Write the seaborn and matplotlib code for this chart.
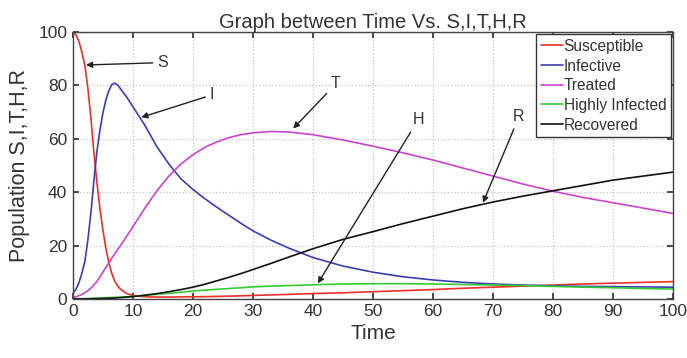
import matplotlib.pyplot as plt
import seaborn as sns
import pandas as pd

# values
time = [0, 0.5, 1, 1.5, 2, 2.5, 3, 3.5, 4, 4.5, 5, 5.5, 6, 6.5, 7, 7.5, 8,
        9, 10, 11, 12,
        14, 16, 18, 20, 22, 24, 26, 28, 30,
        33, 36, 40,
        45, 50, 55, 60, 65, 70, 75, 80, 85, 90, 95, 100]
susceptible = [100, 99, 96.5, 92.5, 87.5, 79, 68, 55, 44, 34, 26, 19, 13.5, 9.5, 6.5, 4.8, 3.5,
               2.0, 1.3, 1.0, 0.8,
               0.7, 0.7, 0.75, 0.8, 0.85, 0.95, 1.05, 1.15, 1.3,
               1.5, 1.7, 2.0,
               2.3, 2.7, 3.1, 3.5, 4.0, 4.4, 4.8, 5.2, 5.6, 5.9, 6.2, 6.5]
infective = [2, 3.5, 6, 9.5, 14, 22, 32, 44, 55, 63, 69.5, 74.5, 78, 80.3, 80.8, 80, 78.5,
             75.5, 72, 68.5, 65,
             57, 50.5, 45, 41, 37.5, 34.3, 31.3, 28.3, 25.5,
             22, 19, 15.5,
             12.3, 10, 8.3, 7.1, 6.2, 5.6, 5.2, 4.9, 4.7, 4.6, 4.5, 4.4]
treated = [0.5, 0.8, 1.2, 1.7, 2.3, 3.1, 4, 5.2, 6.5, 8.2, 10, 11.8, 13.5, 15.3, 17, 18.6, 20.2,
           23.6, 27, 30.5, 34,
           40.5, 46, 50.5, 54, 56.8, 58.8, 60.4, 61.5, 62.2,
           62.7, 62.5, 61.5,
           59.5, 57.2, 54.7, 52, 49, 46, 43, 40.3, 38, 36, 34, 32]
highly_infected = [0, 0, 0.05, 0.08, 0.1, 0.15, 0.2, 0.25, 0.3, 0.35, 0.4, 0.45, 0.5, 0.55, 0.6, 0.65, 0.7,
                   0.8, 0.9, 1.1, 1.3,
                   1.7, 2.1, 2.5, 3.0, 3.3, 3.6, 3.9, 4.2, 4.5,
                   4.8, 5.0, 5.3,
                   5.6, 5.7, 5.7, 5.6, 5.4, 5.2, 5.0, 4.7, 4.4, 4.2, 3.9, 3.7]
recovered = [0, 0, 0, 0, 0, 0.02, 0.05, 0.08, 0.1, 0.12, 0.15, 0.2, 0.25, 0.3, 0.35, 0.42, 0.5,
             0.7, 0.9, 1.1, 1.4,
             2.0, 2.7, 3.5, 4.4, 5.5, 6.8, 8.1, 9.5, 11.0,
             13.3, 15.7, 18.8,
             22.3, 25.2, 28.2, 31, 33.8, 36.3, 38.5, 40.5, 42.5, 44.5, 46, 47.5]

names = ["Susceptible", "Infective", "Treated", "Highly Infected", "Recovered"]
colors = ["#e8302a", "#3a3fb0", "#cc44cc", "#33cc33", "#111111"]

# arrow labels: (text, tip x, tip y, text x, text y)
labels = [("S", 2.2, 87.6, 15, 88.5),
          ("I", 11.4, 68.0, 23.2, 76.4),
          ("T", 36.7, 63.8, 43.8, 80.5),
          ("H", 40.8, 5.8, 57.5, 67),
          ("R", 68.3, 36.0, 74.3, 68.2)]

rows = []
for name, vals in zip(names, [susceptible, infective, treated, highly_infected, recovered]):
    for t, v in zip(time, vals):
        rows.append({"Time": t, "Value": v, "Compartment": name})
df = pd.DataFrame(rows)

sns.set_theme(style="ticks")
plt.rcParams["font.family"] = ["Liberation Sans", "DejaVu Sans"]
plt.rcParams["text.color"] = "#333333"
plt.rcParams["axes.labelcolor"] = "#333333"
plt.rcParams["xtick.color"] = "#333333"
plt.rcParams["ytick.color"] = "#333333"

fig = plt.figure(figsize=(6.87, 3.58), dpi=100)
ax = fig.add_axes([0.106, 0.165, 0.874, 0.746])

sns.lineplot(data=df, x="Time", y="Value", hue="Compartment",
             palette=dict(zip(names, colors)), linewidth=1.2, ax=ax)

for txt, x, y, tx, ty in labels:
    ax.annotate(txt, xy=(x, y), xytext=(tx, ty), fontsize=11.5,
                ha="center", va="center",
                arrowprops=dict(arrowstyle="-|>", color="#222222", lw=1,
                                mutation_scale=9, shrinkA=1, shrinkB=0))

ax.set_xlim(0, 100)
ax.set_ylim(0, 100)
ax.set_xticks(range(0, 101, 10))
ax.set_yticks(range(0, 101, 20))
ax.tick_params(direction="in", top=True, right=True, length=4, labelsize=12.5, pad=4)
ax.grid(True, linestyle=":", color="#c4c4c4", linewidth=0.9)
for sp in ax.spines.values():
    sp.set_color("#444444")
    sp.set_linewidth(1)

ax.set_xlabel("Time", fontsize=15, labelpad=3)
ax.set_ylabel("Population S,I,T,H,R", fontsize=15.5, labelpad=6)
ax.set_title("Graph between Time Vs. S,I,T,H,R", fontsize=14.5, pad=3)

leg = ax.legend(loc="upper right", fontsize=11.2, frameon=True, fancybox=False,
                edgecolor="#333333", framealpha=1, borderaxespad=0.15,
                handlelength=1.4, handletextpad=0.05, labelspacing=0.3,
                borderpad=0.3)
leg.get_frame().set_linewidth(1)

plt.savefig("out.png", dpi=100)
